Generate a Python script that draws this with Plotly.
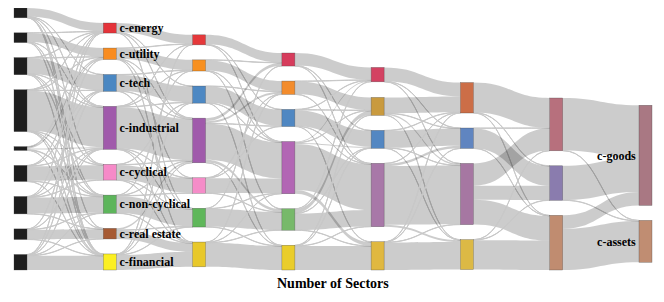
import plotly.graph_objects as go

# ---- nodes, column by column (ids) ----
col0 = ["g1", "g2", "g3", "g4", "g5", "g6", "g7", "g8", "g9"]
col1 = ["energy", "utility", "tech", "industrial", "cyclical", "noncyc", "realestate", "financial"]
col2 = ["k7_1", "k7_2", "k7_3", "k7_4", "k7_5", "k7_6", "k7_7"]
col3 = ["k6_1", "k6_2", "k6_3", "k6_4", "k6_5", "k6_6"]
col4 = ["k5_1", "k5_2", "k5_3", "k5_4", "k5_5"]
col5 = ["k4_1", "k4_2", "k4_3", "k4_4"]
col6 = ["k3_1", "k3_2", "k3_3"]
col7 = ["goods", "assets"]

node_labels = {
    "energy": "c-energy", "utility": "c-utility", "tech": "c-tech",
    "industrial": "c-industrial", "cyclical": "c-cyclical",
    "noncyc": "c-non-cyclical", "realestate": "c-real estate",
    "financial": "c-financial", "goods": "c-goods", "assets": "c-assets",
}

node_colors = {
    "g1": "#1e1e1e", "g2": "#1e1e1e", "g3": "#1e1e1e", "g4": "#1e1e1e", "g5": "#1e1e1e",
    "g6": "#1e1e1e", "g7": "#1e1e1e", "g8": "#1e1e1e", "g9": "#1e1e1e",
    "energy": "#e4333a", "utility": "#f98c1f", "tech": "#4a87c2", "industrial": "#a05aab",
    "cyclical": "#f68ac8", "noncyc": "#5db55b", "realestate": "#a65a33", "financial": "#fbef22",
    "k7_1": "#e5383a", "k7_2": "#f8901f", "k7_3": "#4d88c3", "k7_4": "#a05aab",
    "k7_5": "#f58cc8", "k7_6": "#5fb75a", "k7_7": "#e8c82a",
    "k6_1": "#d63c5c", "k6_2": "#f38c2c", "k6_3": "#4f87c2", "k6_4": "#b266b4",
    "k6_5": "#77b96a", "k6_6": "#eacd2a",
    "k5_1": "#d34262", "k5_2": "#c99a3e", "k5_3": "#5387c2", "k5_4": "#a878a8", "k5_5": "#e0b840",
    "k4_1": "#cc6e47", "k4_2": "#6085c0", "k4_3": "#a677a2", "k4_4": "#dcb945",
    "k3_1": "#b7707d", "k3_2": "#8a7cae", "k3_3": "#c08c70",
    "goods": "#a97883", "assets": "#c08d72",
}

# ---- flows (source, target, number of stocks) ----
links_0_1 = [
    ("g1", "energy", 31), ("g1", "tech", 1), ("g1", "industrial", 1), ("g1", "cyclical", 1),
    ("g1", "realestate", 1), ("g1", "financial", 1),
    ("g2", "utility", 32), ("g2", "energy", 1), ("g2", "industrial", 1), ("g2", "noncyc", 1),
    ("g2", "financial", 1),
    ("g3", "tech", 57), ("g3", "energy", 1), ("g3", "utility", 1), ("g3", "industrial", 1),
    ("g3", "cyclical", 1), ("g3", "noncyc", 1), ("g3", "financial", 1),
    ("g4", "industrial", 147), ("g4", "energy", 1), ("g4", "utility", 1), ("g4", "tech", 1),
    ("g4", "cyclical", 1), ("g4", "noncyc", 1), ("g4", "realestate", 1), ("g4", "financial", 1),
    ("g5", "energy", 1), ("g5", "utility", 6), ("g5", "industrial", 4), ("g5", "noncyc", 2),
    ("g5", "financial", 1),
    ("g6", "cyclical", 54), ("g6", "utility", 1), ("g6", "tech", 1), ("g6", "industrial", 1),
    ("g6", "noncyc", 1), ("g6", "financial", 1),
    ("g7", "noncyc", 59), ("g7", "energy", 1), ("g7", "tech", 1), ("g7", "industrial", 1),
    ("g7", "cyclical", 1), ("g7", "realestate", 1),
    ("g8", "realestate", 35), ("g8", "utility", 1), ("g8", "industrial", 1), ("g8", "noncyc", 1),
    ("g8", "financial", 1),
    ("g9", "financial", 52), ("g9", "energy", 1), ("g9", "tech", 1), ("g9", "industrial", 1),
    ("g9", "noncyc", 1), ("g9", "realestate", 1),
]

links_1_2 = [
    ("energy", "k7_1", 34), ("energy", "k7_3", 1), ("energy", "k7_4", 1), ("energy", "k7_6", 1),
    ("utility", "k7_2", 38), ("utility", "k7_1", 1), ("utility", "k7_4", 1), ("utility", "k7_5", 1),
    ("utility", "k7_7", 1),
    ("tech", "k7_3", 59), ("tech", "k7_2", 1), ("tech", "k7_4", 1), ("tech", "k7_6", 1),
    ("industrial", "k7_4", 152), ("industrial", "k7_1", 1), ("industrial", "k7_2", 1),
    ("industrial", "k7_3", 1), ("industrial", "k7_5", 1), ("industrial", "k7_6", 1),
    ("industrial", "k7_7", 1),
    ("cyclical", "k7_5", 54), ("cyclical", "k7_3", 1), ("cyclical", "k7_4", 1),
    ("cyclical", "k7_6", 1), ("cyclical", "k7_7", 1),
    ("noncyc", "k7_6", 63), ("noncyc", "k7_2", 1), ("noncyc", "k7_4", 1), ("noncyc", "k7_5", 1),
    ("noncyc", "k7_7", 1),
    ("realestate", "k7_7", 32), ("realestate", "k7_4", 6), ("realestate", "k7_6", 1),
    ("financial", "k7_7", 55), ("financial", "k7_1", 1), ("financial", "k7_3", 1),
    ("financial", "k7_4", 1), ("financial", "k7_6", 1),
]

links_2_3 = [
    ("k7_1", "k6_1", 35), ("k7_1", "k6_3", 1), ("k7_1", "k6_4", 1),
    ("k7_2", "k6_2", 38), ("k7_2", "k6_1", 1), ("k7_2", "k6_4", 1), ("k7_2", "k6_5", 1),
    ("k7_3", "k6_3", 60), ("k7_3", "k6_2", 1), ("k7_3", "k6_4", 1), ("k7_3", "k6_6", 1),
    ("k7_4", "k6_4", 133), ("k7_4", "k6_1", 11), ("k7_4", "k6_2", 8), ("k7_4", "k6_5", 10),
    ("k7_4", "k6_3", 1), ("k7_4", "k6_6", 1),
    ("k7_5", "k6_4", 54), ("k7_5", "k6_2", 1), ("k7_5", "k6_3", 1), ("k7_5", "k6_5", 1),
    ("k7_6", "k6_5", 66), ("k7_6", "k6_1", 1), ("k7_6", "k6_4", 1), ("k7_6", "k6_6", 1),
    ("k7_7", "k6_6", 88), ("k7_7", "k6_2", 1), ("k7_7", "k6_4", 1), ("k7_7", "k6_5", 1),
]

links_3_4 = [
    ("k6_1", "k5_1", 46), ("k6_1", "k5_3", 1), ("k6_1", "k5_4", 1),
    ("k6_2", "k5_2", 47), ("k6_2", "k5_1", 1), ("k6_2", "k5_4", 1),
    ("k6_3", "k5_3", 59), ("k6_3", "k5_1", 1), ("k6_3", "k5_2", 1), ("k6_3", "k5_4", 1),
    ("k6_3", "k5_5", 1),
    ("k6_4", "k5_4", 169), ("k6_4", "k5_5", 14), ("k6_4", "k5_1", 4), ("k6_4", "k5_3", 4),
    ("k6_4", "k5_2", 1),
    ("k6_5", "k5_4", 60), ("k6_5", "k5_2", 16), ("k6_5", "k5_1", 1), ("k6_5", "k5_3", 1),
    ("k6_5", "k5_5", 1),
    ("k6_6", "k5_5", 88), ("k6_6", "k5_2", 1), ("k6_6", "k5_3", 1), ("k6_6", "k5_4", 1),
]

links_4_5 = [
    ("k5_1", "k4_1", 51), ("k5_1", "k4_2", 1), ("k5_1", "k4_3", 1),
    ("k5_2", "k4_1", 58), ("k5_2", "k4_3", 6), ("k5_2", "k4_2", 1), ("k5_2", "k4_4", 1),
    ("k5_3", "k4_2", 63), ("k5_3", "k4_1", 1), ("k5_3", "k4_3", 1), ("k5_3", "k4_4", 1),
    ("k5_4", "k4_3", 216), ("k5_4", "k4_2", 9), ("k5_4", "k4_4", 7), ("k5_4", "k4_1", 1),
    ("k5_5", "k4_4", 101), ("k5_5", "k4_1", 1), ("k5_5", "k4_2", 1), ("k5_5", "k4_3", 1),
]

links_5_6 = [
    ("k4_1", "k3_1", 110), ("k4_1", "k3_2", 1), ("k4_1", "k3_3", 1),
    ("k4_2", "k3_2", 73), ("k4_2", "k3_1", 1), ("k4_2", "k3_3", 1),
    ("k4_3", "k3_1", 82), ("k4_3", "k3_2", 52), ("k4_3", "k3_3", 91),
    ("k4_4", "k3_3", 108), ("k4_4", "k3_1", 1), ("k4_4", "k3_2", 1),
]

links_6_7 = [
    ("k3_1", "goods", 193), ("k3_1", "assets", 1),
    ("k3_2", "goods", 126), ("k3_2", "assets", 1),
    ("k3_3", "goods", 49), ("k3_3", "assets", 152),
]

axis_title = "Number of Sectors"

# ---- build the sankey ----
node_ids = col0 + col1 + col2 + col3 + col4 + col5 + col6 + col7
index = {n: i for i, n in enumerate(node_ids)}
all_links = links_0_1 + links_1_2 + links_2_3 + links_3_4 + links_4_5 + links_5_6 + links_6_7

# flows thinner than a pixel are drawn as pale hairlines, larger flows as translucent bands
link_colors = ["rgb(200,200,200)" if v <= 3 else "rgba(0,0,0,0.2)" for s, t, v in all_links]

fig = go.Figure(go.Sankey(
    arrangement="snap",
    node=dict(
        label=[node_labels.get(n, "") for n in node_ids],
        color=[node_colors[n] for n in node_ids],
        pad=15,
        thickness=13,
        line=dict(color="rgba(60,60,60,0.6)", width=0.5),
    ),
    link=dict(
        source=[index[s] for s, t, v in all_links],
        target=[index[t] for s, t, v in all_links],
        value=[v for s, t, v in all_links],
        color=link_colors,
        line=dict(width=0),
    ),
    textfont=dict(family="Liberation Serif, Times New Roman, serif", size=12,
                  color="black", weight="bold", shadow="none"),
))

fig.add_annotation(
    text=axis_title, x=0.5, y=0, xref="paper", yref="paper",
    xanchor="center", yanchor="top", yshift=-4, showarrow=False,
    font=dict(family="Liberation Serif, Times New Roman, serif", size=14,
              color="black", weight="bold"),
)

fig.update_layout(
    width=664, height=302,
    margin=dict(l=6, r=20, t=0, b=40),
    paper_bgcolor="white", plot_bgcolor="white",
)

fig.write_html("out.html")
